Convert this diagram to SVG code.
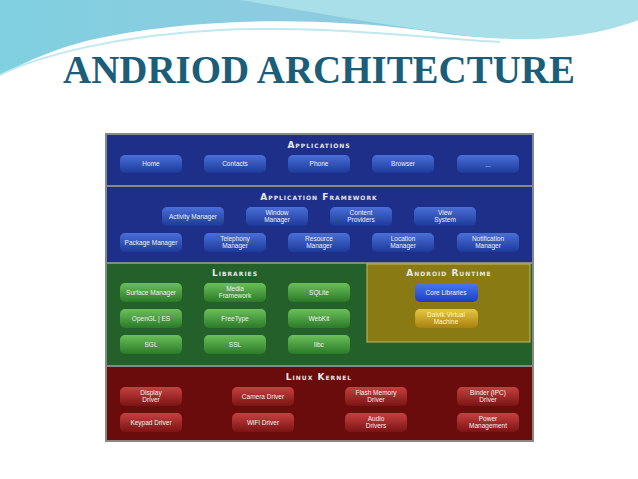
<svg xmlns="http://www.w3.org/2000/svg" width="638" height="479" viewBox="0 0 638 479">
<defs>
<linearGradient id="sky" x1="0" y1="0" x2="1" y2="0"><stop offset="0" stop-color="#7fd0e0"/><stop offset="0.5" stop-color="#8fcbe0"/><stop offset="1" stop-color="#6fc8e8"/></linearGradient>
<linearGradient id="bb" x1="0" y1="0" x2="0" y2="1"><stop offset="0" stop-color="#4a6fd8"/><stop offset="1" stop-color="#1c3a9a"/></linearGradient>
<linearGradient id="gb" x1="0" y1="0" x2="0" y2="1"><stop offset="0" stop-color="#6cc05a"/><stop offset="1" stop-color="#2a7a28"/></linearGradient>
<linearGradient id="rb" x1="0" y1="0" x2="0" y2="1"><stop offset="0" stop-color="#c84040"/><stop offset="1" stop-color="#7a1414"/></linearGradient>
<linearGradient id="yb" x1="0" y1="0" x2="0" y2="1"><stop offset="0" stop-color="#e8c840"/><stop offset="1" stop-color="#a88010"/></linearGradient>
<linearGradient id="cb" x1="0" y1="0" x2="0" y2="1"><stop offset="0" stop-color="#4a78f0"/><stop offset="1" stop-color="#1a40c0"/></linearGradient>
</defs>
<style>
.hd{font-family:"DejaVu Sans",sans-serif;font-size:9px;font-weight:bold;fill:#e8e8e8;text-anchor:middle;font-variant:small-caps;letter-spacing:1px}
.t{font-family:"Liberation Sans",sans-serif;font-size:6.5px;fill:#f0f0f0;text-anchor:middle}
.ty{font-family:"Liberation Sans",sans-serif;font-size:6.5px;fill:#fff8c0;text-anchor:middle}
</style>
<rect width="638" height="479" fill="#ffffff"/>
<path d="M0,0 H638 V20 C560,45 480,40 420,30 C300,15 180,20 90,40 C50,50 20,65 0,75 Z" fill="url(#sky)"/>
<path d="M240,0 C300,10 380,25 460,35 C540,45 600,35 638,20 V0 Z" fill="#a8dfe8"/>
<path d="M0,75 C40,55 120,35 220,30 C330,25 420,38 500,42" fill="none" stroke="#bfe8f0" stroke-width="2"/>
<text x="319" y="83" font-family="Liberation Serif,serif" font-weight="bold" font-size="40" fill="#1a5e7a" text-anchor="middle" textLength="512" lengthAdjust="spacingAndGlyphs">ANDRIOD ARCHITECTURE</text>
<rect x="105" y="133" width="429" height="309" fill="#888"/>
<g id="applications"><rect x="107" y="135" width="425" height="50" fill="#1e2f8a"/><text class="hd" x="319" y="148">Applications</text></g>
<g id="framework"><rect x="107" y="187" width="425" height="75" fill="#1e2f8a"/><text class="hd" x="319" y="200">Application Framework</text></g>
<g id="libraries"><rect x="107" y="264" width="425" height="101" fill="#24602a"/><text class="hd" x="235" y="276">Libraries</text></g>
<g id="runtime"><rect x="367" y="264" width="163" height="78" fill="#8a7a14" stroke="#c8b860" stroke-width="1"/><text class="hd" x="449" y="276">Android Runtime</text></g>
<g id="kernel"><rect x="107" y="367" width="425" height="73" fill="#6a0c0c"/><text class="hd" x="319" y="380">Linux Kernel</text></g>
<g id="apps">
<rect x="120" y="155" width="62" height="18" rx="5" fill="url(#bb)"/><text class="t" x="151" y="166">Home</text>
<rect x="204" y="155" width="62" height="18" rx="5" fill="url(#bb)"/><text class="t" x="235" y="166">Contacts</text>
<rect x="288" y="155" width="62" height="18" rx="5" fill="url(#bb)"/><text class="t" x="319" y="166">Phone</text>
<rect x="372" y="155" width="62" height="18" rx="5" fill="url(#bb)"/><text class="t" x="403" y="166">Browser</text>
<rect x="457" y="155" width="62" height="18" rx="5" fill="url(#bb)"/><text class="t" x="488" y="167">...</text>
</g>
<g id="fw">
<rect x="162" y="207" width="62" height="19" rx="5" fill="url(#bb)"/><text class="t" x="193" y="219">Activity Manager</text>
<rect x="246" y="207" width="62" height="19" rx="5" fill="url(#bb)"/><text class="t" x="277" y="215">Window</text><text class="t" x="277" y="222">Manager</text>
<rect x="330" y="207" width="62" height="19" rx="5" fill="url(#bb)"/><text class="t" x="361" y="215">Content</text><text class="t" x="361" y="222">Providers</text>
<rect x="414" y="207" width="62" height="19" rx="5" fill="url(#bb)"/><text class="t" x="445" y="215">View</text><text class="t" x="445" y="222">System</text>
<rect x="120" y="233" width="62" height="19" rx="5" fill="url(#bb)"/><text class="t" x="151" y="245">Package Manager</text>
<rect x="204" y="233" width="62" height="19" rx="5" fill="url(#bb)"/><text class="t" x="235" y="241">Telephony</text><text class="t" x="235" y="248">Manager</text>
<rect x="288" y="233" width="62" height="19" rx="5" fill="url(#bb)"/><text class="t" x="319" y="241">Resource</text><text class="t" x="319" y="248">Manager</text>
<rect x="372" y="233" width="62" height="19" rx="5" fill="url(#bb)"/><text class="t" x="403" y="241">Location</text><text class="t" x="403" y="248">Manager</text>
<rect x="457" y="233" width="62" height="19" rx="5" fill="url(#bb)"/><text class="t" x="488" y="241">Notification</text><text class="t" x="488" y="248">Manager</text>
</g>
<g id="libs">
<rect x="120" y="283" width="62" height="19" rx="5" fill="url(#gb)"/><text class="t" x="151" y="295">Surface Manager</text>
<rect x="204" y="283" width="62" height="19" rx="5" fill="url(#gb)"/><text class="t" x="235" y="291">Media</text><text class="t" x="235" y="298">Framework</text>
<rect x="288" y="283" width="62" height="19" rx="5" fill="url(#gb)"/><text class="t" x="319" y="295">SQLite</text>
<rect x="120" y="309" width="62" height="19" rx="5" fill="url(#gb)"/><text class="t" x="151" y="321">OpenGL | ES</text>
<rect x="204" y="309" width="62" height="19" rx="5" fill="url(#gb)"/><text class="t" x="235" y="321">FreeType</text>
<rect x="288" y="309" width="62" height="19" rx="5" fill="url(#gb)"/><text class="t" x="319" y="321">WebKit</text>
<rect x="120" y="335" width="62" height="19" rx="5" fill="url(#gb)"/><text class="t" x="151" y="347">SGL</text>
<rect x="204" y="335" width="62" height="19" rx="5" fill="url(#gb)"/><text class="t" x="235" y="347">SSL</text>
<rect x="288" y="335" width="62" height="19" rx="5" fill="url(#gb)"/><text class="t" x="319" y="347">libc</text>
</g>
<g id="rt">
<rect x="415" y="283" width="63" height="19" rx="5" fill="url(#cb)"/><text class="t" x="446" y="295">Core Libraries</text>
<rect x="415" y="309" width="63" height="19" rx="5" fill="url(#yb)"/><text class="ty" x="446" y="317">Dalvik Virtual</text><text class="ty" x="446" y="324">Machine</text>
</g>
<g id="drv">
<rect x="120" y="387" width="62" height="19" rx="5" fill="url(#rb)"/><text class="t" x="151" y="395">Display</text><text class="t" x="151" y="402">Driver</text>
<rect x="232" y="387" width="62" height="19" rx="5" fill="url(#rb)"/><text class="t" x="263" y="399">Camera Driver</text>
<rect x="345" y="387" width="62" height="19" rx="5" fill="url(#rb)"/><text class="t" x="376" y="395">Flash Memory</text><text class="t" x="376" y="402">Driver</text>
<rect x="457" y="387" width="62" height="19" rx="5" fill="url(#rb)"/><text class="t" x="488" y="395">Binder (IPC)</text><text class="t" x="488" y="402">Driver</text>
<rect x="120" y="413" width="62" height="19" rx="5" fill="url(#rb)"/><text class="t" x="151" y="425">Keypad Driver</text>
<rect x="232" y="413" width="62" height="19" rx="5" fill="url(#rb)"/><text class="t" x="263" y="425">WiFi Driver</text>
<rect x="345" y="413" width="62" height="19" rx="5" fill="url(#rb)"/><text class="t" x="376" y="421">Audio</text><text class="t" x="376" y="428">Drivers</text>
<rect x="457" y="413" width="62" height="19" rx="5" fill="url(#rb)"/><text class="t" x="488" y="421">Power</text><text class="t" x="488" y="428">Management</text>
</g>
<g id="connectors"/>
</svg>
